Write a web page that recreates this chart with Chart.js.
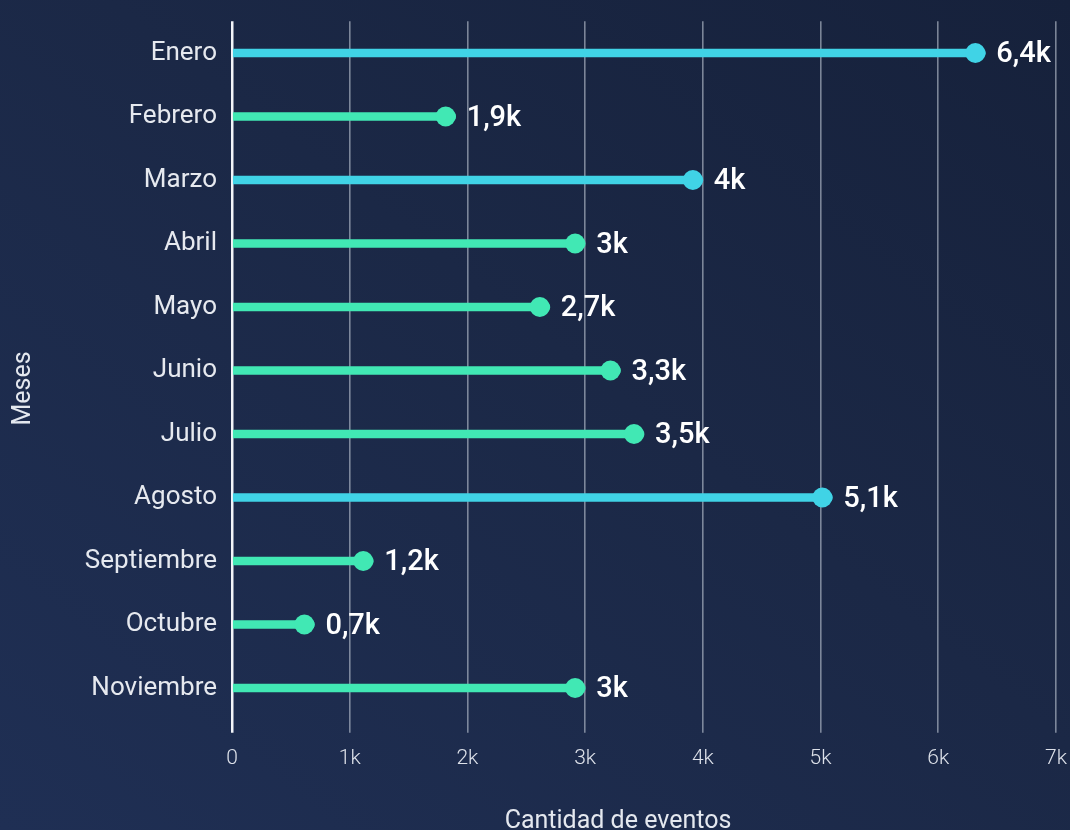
<!DOCTYPE html>
<html lang="es">
<head>
<meta charset="utf-8">
<title>Eventos por mes</title>
<script src="https://cdn.jsdelivr.net/npm/chart.js@4.4.1/dist/chart.umd.min.js"></script>
<style>
  html, body { margin: 0; padding: 0; }
  body {
    width: 1070px; height: 830px; overflow: hidden;
    background: linear-gradient(to bottom left, #16213b 0%, #1b2846 45%, #1f2f54 100%);
  }
  canvas { display: block; }
</style>
</head>
<body>
<canvas id="grafico" width="1090" height="845"></canvas>
<script>
// Meses y cantidad de eventos registrados en cada uno
const meses = ['Enero', 'Febrero', 'Marzo', 'Abril', 'Mayo', 'Junio', 'Julio', 'Agosto', 'Septiembre', 'Octubre', 'Noviembre'];
const eventos = [6400, 1900, 4000, 3000, 2700, 3300, 3500, 5100, 1200, 700, 3000];
// Meses resaltados con el color secundario
const mesesDestacados = ['Enero', 'Marzo', 'Agosto'];
// Marcas del eje de cantidades
const marcasEje = [0, 1000, 2000, 3000, 4000, 5000, 6000, 7000];

const COLOR_BASE = '#41e8b4';
const COLOR_DESTACADO = '#40d3e6';
const RADIO_PUNTO = 10;
const FUENTE = 'Roboto, "DejaVu Sans", sans-serif';

const colorMes = (i) => mesesDestacados.includes(meses[i]) ? COLOR_DESTACADO : COLOR_BASE;
const formatoK = (v) => v === 0 ? '0' : String(v / 1000).replace('.', ',') + 'k';

// Dibuja la cabeza de cada piruleta y su etiqueta de valor
const piruletas = {
  id: 'piruletas',
  afterDatasetsDraw(chart) {
    const { ctx } = chart;
    const x = chart.scales.x;
    const meta = chart.getDatasetMeta(0);
    ctx.save();
    meta.data.forEach((barra, i) => {
      const v = chart.data.datasets[0].data[i];
      const fin = x.getPixelForValue(v);
      ctx.beginPath();
      ctx.fillStyle = colorMes(i);
      ctx.arc(fin - RADIO_PUNTO, barra.y, RADIO_PUNTO, 0, Math.PI * 2);
      ctx.fill();
      ctx.fillStyle = '#ffffff';
      ctx.font = '500 29px ' + FUENTE;
      ctx.textAlign = 'left';
      ctx.textBaseline = 'middle';
      ctx.fillText(formatoK(v), fin + 11, barra.y + 2);
    });
    ctx.restore();
  }
};

// Títulos de los ejes
const titulosEjes = {
  id: 'titulosEjes',
  afterDraw(chart) {
    const { ctx, chartArea } = chart;
    ctx.save();
    ctx.fillStyle = '#e4e8ef';
    ctx.font = '400 25px ' + FUENTE;
    ctx.textAlign = 'center';
    ctx.textBaseline = 'alphabetic';
    ctx.fillText('Cantidad de eventos', (chartArea.left + chartArea.right) / 2 - 26, 828);
    ctx.translate(30, (chartArea.top + chartArea.bottom) / 2 + 18);
    ctx.rotate(-Math.PI / 2);
    ctx.fillText('Meses', 0, 0);
    ctx.restore();
  }
};

new Chart(document.getElementById('grafico'), {
  type: 'bar',
  data: {
    labels: meses,
    datasets: [{
      label: 'Cantidad de eventos',
      data: eventos,
      backgroundColor: meses.map((_, i) => colorMes(i)),
      barThickness: 8,
      borderRadius: 4,
      borderSkipped: 'start'
    }]
  },
  options: {
    indexAxis: 'y',
    responsive: false,
    animation: false,
    devicePixelRatio: 1,
    layout: { padding: { top: 21.25, right: 34, bottom: 0, left: 0 } },
    plugins: {
      legend: { display: false },
      tooltip: { enabled: false }
    },
    scales: {
      x: {
        type: 'linear',
        min: 0,
        max: 7000,
        afterBuildTicks: (scale) => { scale.ticks = marcasEje.map(v => ({ value: v })); },
        afterFit: (scale) => { scale.height = 125.25; scale.paddingLeft = 0; scale.paddingRight = 0; },
        border: { display: false },
        grid: {
          color: (c) => c.tick && c.tick.value === 0 ? '#f2f4f8' : 'rgba(190,198,212,0.6)',
          lineWidth: (c) => c.tick && c.tick.value === 0 ? 2.5 : 1.6,
          drawTicks: true,
          tickLength: 13
        },
        ticks: {
          color: '#dde1e9',
          font: { family: FUENTE, size: 21, weight: '300' },
          padding: 13,
          maxRotation: 0,
          callback: (v) => formatoK(v)
        }
      },
      y: {
        afterFit: (scale) => { scale.width = 232; scale.paddingTop = 0; scale.paddingBottom = 0; },
        border: { display: false },
        grid: { display: false, drawTicks: false },
        ticks: {
          color: '#e6e9ef',
          font: { family: FUENTE, size: 26, weight: '400' },
          padding: 15
        }
      }
    }
  },
  plugins: [piruletas, titulosEjes]
});
</script>
</body>
</html>
